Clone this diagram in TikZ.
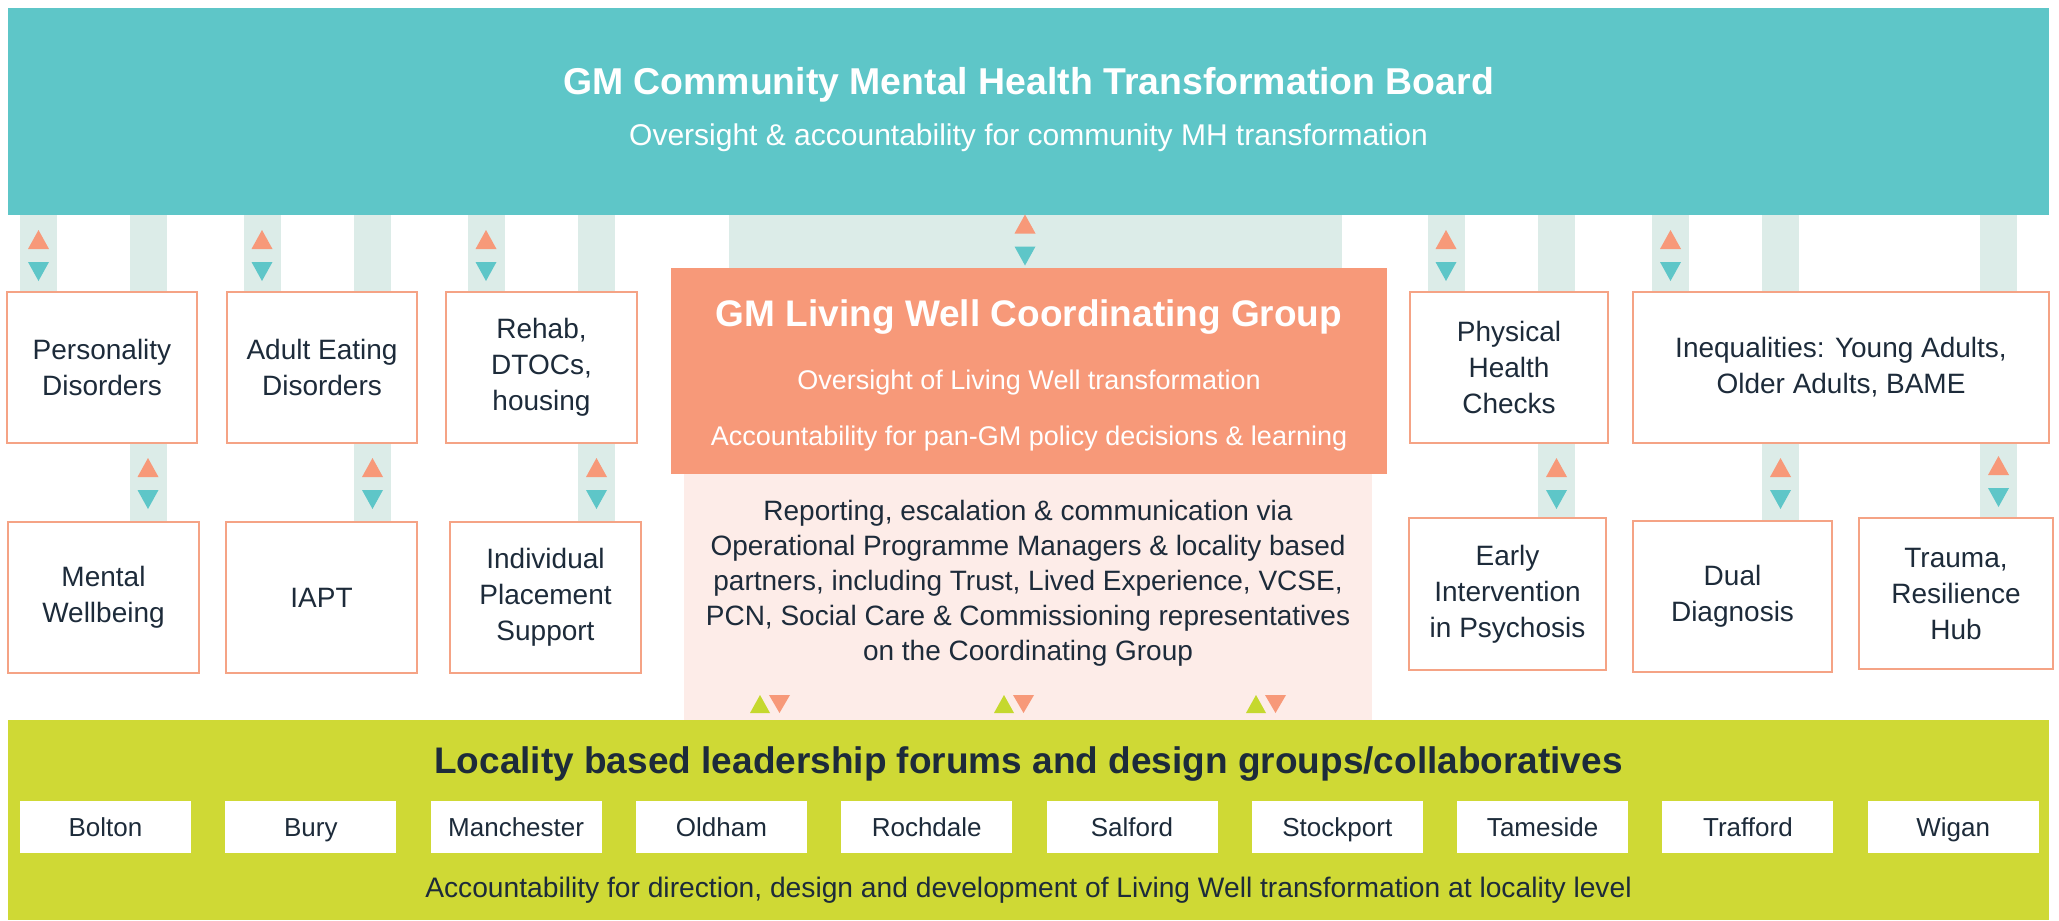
\documentclass[tikz,border=0pt]{standalone}
\usepackage{fontspec}
\setmainfont{Liberation Sans}
\usetikzlibrary{backgrounds}

\definecolor{boardteal}{HTML}{5EC6C8}
\definecolor{barmint}{HTML}{DCECE8}
\definecolor{groupsalmon}{HTML}{F79979}
\definecolor{boxline}{HTML}{F5A385}
\definecolor{reportpink}{HTML}{FDECE8}
\definecolor{localgreen}{HTML}{CFD935}
\definecolor{upgreen}{HTML}{C5D82E}
\definecolor{ink}{HTML}{1D2B3A}

\tikzset{
  panel/.style={inner sep=0pt, outer sep=0pt},
  box/.style={draw=boxline, line width=1.3pt, fill=white, text=ink, align=center,
    inner sep=0pt, font=\fontsize{14}{18}\selectfont},
  citybox/.style={fill=white, text=ink, minimum width=85.5pt, minimum height=26pt,
    inner sep=0pt, text height=9.3pt, text depth=0pt, font=\fontsize{13}{15}\selectfont},
  bar/.style={draw=barmint, line width=18.5pt},
  pics/updown/.style 2 args={code={
    \fill[#1] (-10.5,-6.5) -- (10.5,-6.5) -- (0,-25.5) -- cycle;
    \fill[#2] (-10.5,6.5) -- (10.5,6.5) -- (0,25.5) -- cycle;
  }},
  pics/sidebyside/.style 2 args={code={
    \fill[#1] (-20,9) -- (0,9) -- (-10,-9) -- cycle;
    \fill[#2] (-1,-9) -- (20,-9) -- (9.5,9) -- cycle;
  }},
}

\begin{document}
\begin{tikzpicture}[x=0.5pt,y=-0.5pt]
  \useasboundingbox (0,0) rectangle (2059,920);

  % board across the top
  \node[panel, fill=boardteal, minimum width=1020.5pt, minimum height=103.5pt] (board) at (1028.5,111.5) {};
  \node[anchor=base, text=white, font=\bfseries\fontsize{18.7}{22}\selectfont] (boardtitle) at (1028.5,95)
    {GM Community Mental Health Transformation Board};
  \node[anchor=base, text=white, font=\fontsize{15}{18}\selectfont] (boardsub) at (1028.5,145)
    {Oversight \& accountability for community MH transformation};

  % coordinating group and reporting panel
  \node[panel, fill=groupsalmon, minimum width=358pt, minimum height=103pt] (group) at (1029,371) {};
  \node[anchor=base, text=white, font=\bfseries\fontsize{18.5}{22}\selectfont] (grouptitle) at (1029,326.7)
    {GM Living Well Coordinating Group};
  \node[anchor=base, text=white, font=\fontsize{13.5}{16}\selectfont] (groupsub1) at (1029,389)
    {Oversight of Living Well transformation};
  \node[anchor=base, text=white, font=\fontsize{13.5}{16}\selectfont] (groupsub2) at (1029,445.5)
    {Accountability for pan-GM policy decisions \& learning};

  \node[panel, fill=reportpink, minimum width=344pt, minimum height=123pt] (report) at (1028,597) {};
  \node[anchor=north, text=ink, align=center, inner sep=0pt, font=\fontsize{14}{17.5}\selectfont] (reporttext) at (1028,500)
    {Reporting, escalation \& communication via\\
     Operational Programme Managers \& locality based\\
     partners, including Trust, Lived Experience, VCSE,\\
     PCN, Social Care \& Commissioning representatives\\
     on the Coordinating Group};

  % locality band
  \node[panel, fill=localgreen, minimum width=1020.5pt, minimum height=100pt] (local) at (1028.5,820) {};
  \node[anchor=base, text=ink, font=\bfseries\fontsize{18.5}{22}\selectfont] (localtitle) at (1028.5,773)
    {Locality based leadership forums and design groups/collaboratives};
  \foreach \name [count=\i from 0] in {Bolton,Bury,Manchester,Oldham,Rochdale,Salford,Stockport,Tameside,Trafford,Wigan}
    \node[citybox] (city\i) at ({105.5+205.3*\i},827) {\name};
  \node[anchor=base, text=ink, font=\fontsize{14.1}{17}\selectfont] (localsub) at (1028.5,897)
    {Accountability for direction, design and development of Living Well transformation at locality level};

  % workstream boxes
  \node[box, minimum width=95pt, minimum height=75.5pt] (pd) at (102,367.5) {Personality\\Disorders};
  \node[box, minimum width=95pt, minimum height=75.5pt] (aed) at (322,367.5) {Adult Eating\\Disorders};
  \node[box, minimum width=95.5pt, minimum height=75.5pt] (rehab) at (541.5,367.5) {Rehab,\\DTOCs,\\housing};
  \node[box, minimum width=99pt, minimum height=75.5pt] (phc) at (1509,367.5) {Physical\\Health\\Checks};
  \node[box, minimum width=208pt, minimum height=75.5pt] (ineq) at (1841,367.5) {Inequalities: Young Adults,\\Older Adults, BAME};

  \node[box, minimum width=95.5pt, minimum height=75.5pt] (mw) at (103.5,597.5) {Mental\\Wellbeing};
  \node[box, minimum width=95.5pt, minimum height=75.5pt] (iapt) at (321.5,597.5) {IAPT};
  \node[box, minimum width=95.5pt, minimum height=75.5pt] (ips) at (545.5,597.5) {Individual\\Placement\\Support};
  \node[box, minimum width=98.5pt, minimum height=76pt] (eip) at (1507.5,594) {Early\\Intervention\\in Psychosis};
  \node[box, minimum width=99.5pt, minimum height=75.5pt] (dd) at (1732.5,596.5) {Dual\\Diagnosis};
  \node[box, minimum width=97pt, minimum height=75.5pt] (trauma) at (1956,593.5) {Trauma,\\Resilience\\Hub};

  % links behind the boxes
  \begin{scope}[on background layer]
    \foreach \x/\top in {38.5/pd,148/pd,262/aed,372.5/aed,486/rehab,596.5/rehab,
                         1446/phc,1556.5/phc,1670.5/ineq,1780.5/ineq,1998.5/ineq}
      \draw[bar] (\x,0 |- board.south) -- (\x,0 |- \top.north);
    \foreach \x/\top/\bot in {148/pd/mw,372.5/aed/iapt,596.5/rehab/ips,
                              1556.5/phc/eip,1780.5/ineq/dd,1998.5/ineq/trauma}
      \draw[bar] (\x,0 |- \top.south) -- (\x,0 |- \bot.north);
    \fill[barmint] (729,0 |- board.south) rectangle (1342,0 |- group.north);
  \end{scope}

  % two-way markers
  \foreach \x/\y in {38.5/255.5,262/255.5,486/255.5,1446/255.5,1670.5/255.5,
                     148/483.5,372.5/483.5,596.5/483.5,1556.5/483.5,1780.5/483.5,1998.5/481.5,1025/240}
    \pic at (\x,\y) {updown={groupsalmon}{boardteal}};
  \foreach \x in {770,1014,1266}
    \pic at (\x,704) {sidebyside={upgreen}{groupsalmon}};
\end{tikzpicture}
\end{document}
